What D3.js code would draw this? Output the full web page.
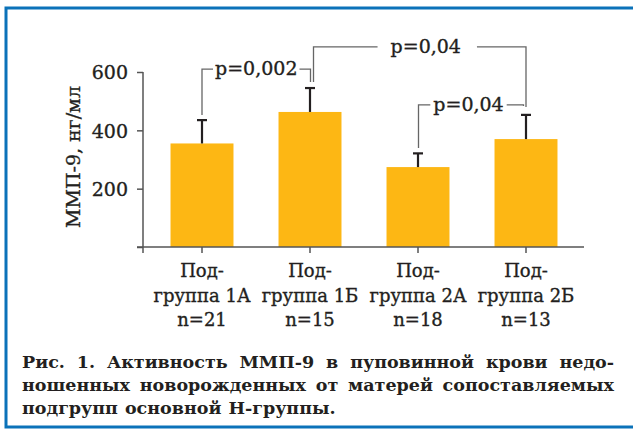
<!DOCTYPE html>
<html lang="ru">
<head>
  <meta charset="UTF-8">
  <title>ММП-9</title>
  <script src="https://d3js.org/d3.v7.min.js"></script>
  <style>
    body { margin: 0; background: #fff; }
    text { font-family: "DejaVu Serif", serif; fill: #231f20; }
    .heavy { stroke: #231f20; stroke-width: 0.35px; }
  </style>
</head>
<body>
  <div id="chart"></div>
  <script>
    // Data
    var groups = ["1А", "1Б", "2А", "2Б"];
    var labelLines = [
      ["Под-", "группа 1А", "n=21"],
      ["Под-", "группа 1Б", "n=15"],
      ["Под-", "группа 2А", "n=18"],
      ["Под-", "группа 2Б", "n=13"]
    ];
    var means = [355, 463, 274, 370];
    var sds = [80, 82, 47, 83];
    var yTicks = [0, 200, 400, 600];
    // comparisons: [from, to, label, bracket level (ng/ml)]
    var comparisons = [
      [0, 1, "p=0,002", 610],
      [1, 3, "p=0,04", 686],
      [2, 3, "p=0,04", 487]
    ];
    var captionLines = [
      "Рис. 1. Активность ММП-9 в пуповинной крови недо-",
      "ношенных новорожденных от матерей сопоставляемых",
      "подгрупп основной Н-группы."
    ];

    var W = 633, H = 429;
    var svg = d3.select("#chart").append("svg")
      .attr("width", W).attr("height", H);

    // blue frame (right side runs off the page)
    svg.append("rect")
      .attr("x", 6).attr("y", 8).attr("width", 700).attr("height", 419)
      .attr("fill", "none").attr("stroke", "#0b72b9").attr("stroke-width", 3);

    var x = d3.scaleBand().domain(groups).range([148, 580])
      .paddingInner(0.417).paddingOuter(0.2085);
    var y = d3.scaleLinear().domain([0, 600]).range([247, 72]);

    // bars
    svg.selectAll("rect.bar").data(means).enter().append("rect")
      .attr("class", "bar")
      .attr("x", function(d, i) { return x(groups[i]); })
      .attr("y", function(d) { return y(d); })
      .attr("width", x.bandwidth())
      .attr("height", function(d) { return y(0) - y(d); })
      .attr("fill", "#fdb714");

    // error bars (upper only)
    var cx = function(i) { return x(groups[i]) + x.bandwidth() / 2; };
    var err = svg.append("g").attr("stroke", "#231f20").attr("stroke-width", 2.2);
    means.forEach(function(m, i) {
      err.append("line")
        .attr("x1", cx(i)).attr("x2", cx(i))
        .attr("y1", y(m)).attr("y2", y(m + sds[i]));
      err.append("line")
        .attr("x1", cx(i) - 5).attr("x2", cx(i) + 5)
        .attr("y1", y(m + sds[i])).attr("y2", y(m + sds[i]));
    });

    // axes
    var yAxis = svg.append("g")
      .attr("transform", "translate(143,0)")
      .call(d3.axisLeft(y).tickValues(yTicks).tickSize(6).tickPadding(9)
        .tickFormat(function(d) { return d ? d : ""; }));
    yAxis.select(".domain").remove();
    yAxis.selectAll("line").attr("stroke", "#555").attr("stroke-width", 1.5);
    yAxis.selectAll("text").attr("font-size", 19).attr("font-family", "DejaVu Serif")
      .attr("fill", "#231f20").attr("class", "heavy").attr("dy", "0.36em");

    var axisG = svg.append("g").attr("stroke", "#555").attr("stroke-width", 1.5);
    axisG.append("line").attr("x1", 143).attr("x2", 143).attr("y1", y(600)).attr("y2", y(0) + 6);
    axisG.append("line").attr("x1", 137).attr("x2", 584).attr("y1", y(0)).attr("y2", y(0));
    groups.forEach(function(g, i) {
      axisG.append("line").attr("x1", cx(i)).attr("x2", cx(i))
        .attr("y1", y(0)).attr("y2", y(0) + 6);
    });

    // category labels
    labelLines.forEach(function(lines, i) {
      var t = svg.append("text").attr("text-anchor", "middle").attr("font-size", 18)
        .attr("class", "heavy");
      lines.forEach(function(s, k) {
        t.append("tspan").attr("x", cx(i)).attr("y", 277 + k * 24.5).text(s);
      });
    });

    // y title
    var yt = svg.append("text")
      .attr("transform", "translate(80,157) rotate(-90)")
      .attr("text-anchor", "middle").attr("font-size", 19).attr("class", "heavy");
    yt.append("tspan").text("ММП-9, ");
    yt.append("tspan").text("нг/мл");

    // significance brackets
    var footX = [[0, 0.5], [3.5, 0], [0.5, -2.5]];
    var footEnd = [[115, 82], [82, 107], [148, 106]];
    var gapL = [2, 13, 3], gapR = [2, 16, 3];
    var textShift = [0, 6, -2.5];
    var br = svg.append("g");
    comparisons.forEach(function(c, k) {
      var xa = cx(c[0]) + footX[k][0], xb = cx(c[1]) + footX[k][1];
      var yl = y(c[3]);
      var mid = (xa + xb) / 2 + textShift[k];
      var t = br.append("text").attr("x", mid).attr("y", yl + 6)
        .attr("text-anchor", "middle").attr("font-size", 19).attr("class", "heavy").text(c[2]);
      var w = t.node().getComputedTextLength();
      var l = mid - w / 2 - gapL[k], r = mid + w / 2 + gapR[k];
      br.append("path")
        .attr("d", "M" + xa + "," + footEnd[k][0] + "V" + yl + "H" + l +
                   "M" + r + "," + yl + "H" + xb + "V" + footEnd[k][1])
        .attr("fill", "none").attr("stroke", "#666").attr("stroke-width", 1.3);
    });

    // caption, first two lines justified
    var capX0 = 22, capX1 = 614;
    captionLines.forEach(function(line, k) {
      var yy = 368 + k * 23;
      var words = line.split(" ");
      var g = svg.append("g");
      var nodes = words.map(function(wd) {
        return g.append("text").attr("y", yy).attr("font-size", 17.5)
          .attr("font-weight", "bold").text(wd);
      });
      var widths = nodes.map(function(n) { return n.node().getComputedTextLength(); });
      var total = d3.sum(widths);
      var space = k < 2 ? (capX1 - capX0 - total) / (words.length - 1) : 7;
      var pos = capX0;
      nodes.forEach(function(n, i) {
        n.attr("x", pos);
        pos += widths[i] + space;
      });
    });
  </script>
</body>
</html>
